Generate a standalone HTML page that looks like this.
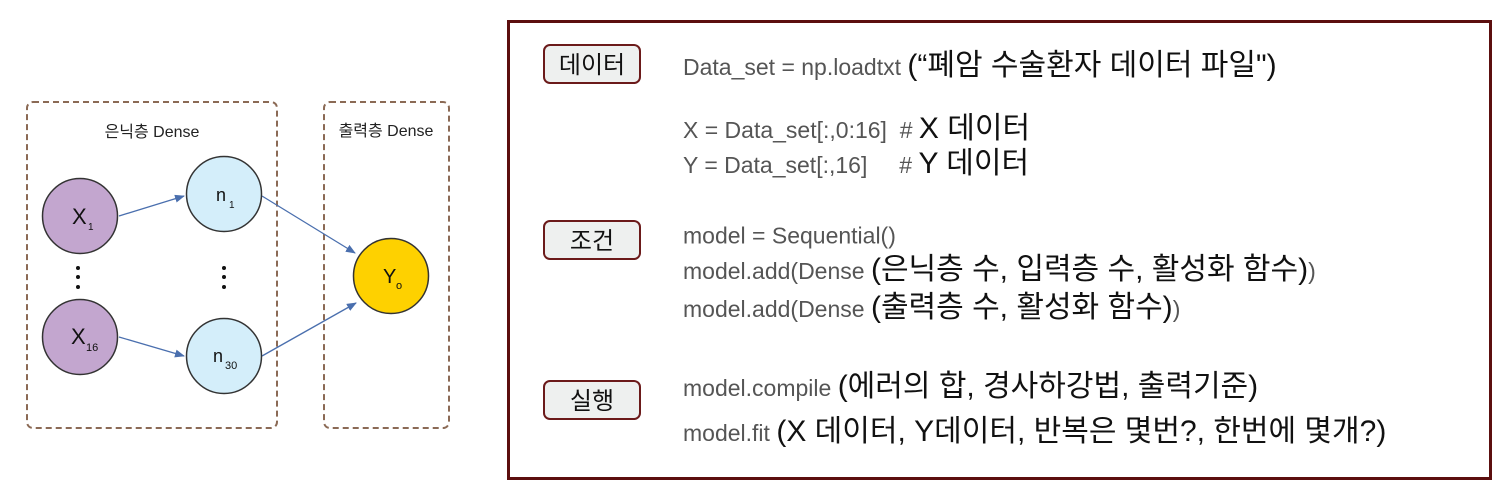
<!DOCTYPE html>
<html><head><meta charset="utf-8"><style>
body{margin:0;width:1512px;height:501px;background:#fff;position:relative;overflow:hidden;font-family:"Liberation Sans","Noto Sans CJK KR",sans-serif}
.t{position:absolute;white-space:nowrap;line-height:1;transform:translateY(-50%)}
.c{color:#555;font-size:23px}
.k{color:#111;font-size:30px}
.btn{position:absolute;left:543px;width:94px;height:36px;border:2px solid #6b1a1a;border-radius:7px;background:#eef0ef;font-size:24px;text-align:center;line-height:40px;color:#111}
</style></head><body>
<svg width="470" height="501" style="position:absolute;left:0;top:0" font-family="Liberation Sans, Noto Sans CJK KR, sans-serif">
<defs><marker id="a" markerWidth="10" markerHeight="8" refX="9" refY="4" orient="auto" markerUnits="userSpaceOnUse"><path d="M0,0 L10,4 L0,8z" fill="#4a6fae"/></marker></defs>
<rect x="27" y="102" width="250" height="326" rx="6" fill="none" stroke="#8b6a55" stroke-width="2" stroke-dasharray="6,4"/>
<rect x="324" y="102" width="125" height="326" rx="6" fill="none" stroke="#8b6a55" stroke-width="2" stroke-dasharray="6,4"/>
<text x="152" y="137" font-size="16" text-anchor="middle" fill="#222">은닉층 Dense</text>
<text x="386" y="136" font-size="16" text-anchor="middle" fill="#222">출력층 Dense</text>
<g stroke="#4a6fae" stroke-width="1.3" marker-end="url(#a)">
<line x1="119" y1="216" x2="184" y2="196"/>
<line x1="119" y1="337" x2="184" y2="356"/>
<line x1="262" y1="196" x2="355" y2="253"/>
<line x1="262" y1="356" x2="356" y2="303"/>
</g>
<g stroke="#333" stroke-width="1.5">
<circle cx="80" cy="216" r="37.5" fill="#c3a6cf"/>
<circle cx="80" cy="337" r="37.5" fill="#c3a6cf"/>
<circle cx="224" cy="194" r="37.5" fill="#d4eefa"/>
<circle cx="224" cy="356" r="37.5" fill="#d4eefa"/>
<circle cx="391" cy="276" r="37.5" fill="#fed100"/>
</g>
<g fill="#111"><circle cx="78" cy="268" r="2"/><circle cx="78" cy="277" r="2"/><circle cx="78" cy="287" r="2"/>
<circle cx="224" cy="268" r="2"/><circle cx="224" cy="277" r="2"/><circle cx="224" cy="287" r="2"/></g>
<text x="72" y="224" font-size="22" fill="#111">X</text><text x="88" y="230" font-size="10" fill="#111">1</text>
<text x="71" y="344" font-size="22" fill="#111">X</text><text x="86" y="351" font-size="11" fill="#111">16</text>
<text x="216" y="201" font-size="18" fill="#111">n</text><text x="229" y="208" font-size="10" fill="#111">1</text>
<text x="213" y="362" font-size="18" fill="#111">n</text><text x="225" y="369" font-size="11" fill="#111">30</text>
<text x="383" y="283" font-size="20" fill="#111">Y</text><text x="396" y="289" font-size="11" fill="#111">o</text>
</svg>
<div style="position:absolute;left:507px;top:20px;width:979px;height:454px;border:3px solid #5c0f0f"></div>
<div class="btn" style="top:44px">데이터</div>
<div class="btn" style="top:220px">조건</div>
<div class="btn" style="top:380px">실행</div>
<div class="t" style="left:683px;top:66px"><span class="c">Data_set = np.loadtxt </span><span class="k">(“폐암 수술환자 데이터 파일")</span></div>
<div class="t" style="left:683px;top:129px"><span class="c">X = Data_set[:,0:16]&nbsp;&nbsp;# </span><span class="k">X 데이터</span></div>
<div class="t" style="left:683px;top:164px"><span class="c">Y = Data_set[:,16]&nbsp;&nbsp;&nbsp;&nbsp;&nbsp;# </span><span class="k">Y 데이터</span></div>
<div class="t" style="left:683px;top:236px"><span class="c">model = Sequential()</span></div>
<div class="t" style="left:683px;top:270px"><span class="c">model.add(Dense </span><span class="k">(은닉층 수, 입력층 수, 활성화 함수)</span><span class="c">)</span></div>
<div class="t" style="left:683px;top:308px"><span class="c">model.add(Dense </span><span class="k">(출력층 수, 활성화 함수)</span><span class="c">)</span></div>
<div class="t" style="left:683px;top:387px"><span class="c">model.compile </span><span class="k">(에러의 합, 경사하강법, 출력기준)</span></div>
<div class="t" style="left:683px;top:432px"><span class="c">model.fit </span><span class="k">(X 데이터, Y데이터, 반복은 몇번?, 한번에 몇개?)</span></div>
</body></html>
